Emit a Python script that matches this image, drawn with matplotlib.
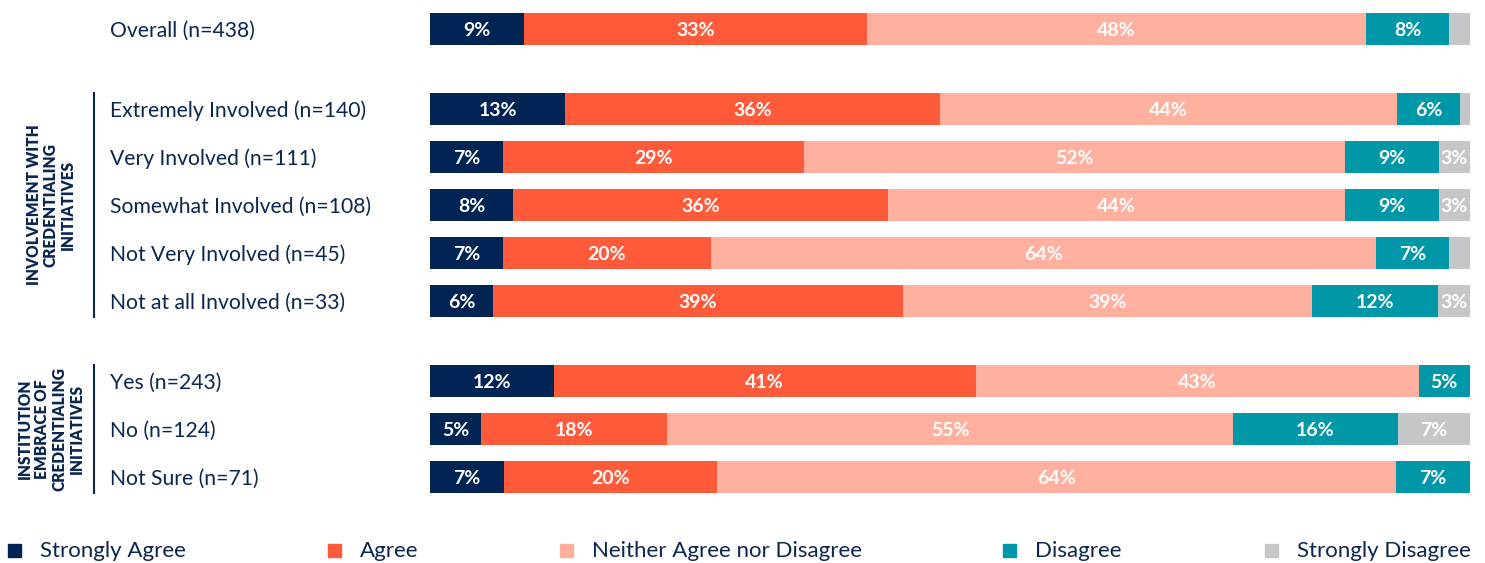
import matplotlib.pyplot as plt
import numpy as np

plt.rcParams['font.family'] = ['Lato', 'DejaVu Sans']

# Response shares (%) per group
rows = ['Overall (n=438)',
        'Extremely Involved (n=140)', 'Very Involved (n=111)', 'Somewhat Involved (n=108)',
        'Not Very Involved (n=45)', 'Not at all Involved (n=33)',
        'Yes (n=243)', 'No (n=124)', 'Not Sure (n=71)']
strongly_agree = [9, 13, 7, 8, 7, 6, 12, 5, 7]
agree = [33, 36, 29, 36, 20, 39, 41, 18, 20]
neither = [48, 44, 52, 44, 64, 39, 43, 55, 64]
disagree = [8, 6, 9, 9, 7, 12, 5, 16, 7]
strongly_disagree = [2, 1, 3, 3, 2, 3, 0, 7, 0]

categories = ['Strongly Agree', 'Agree', 'Neither Agree nor Disagree', 'Disagree', 'Strongly Disagree']
colors = ['#002453', '#FF5B3A', '#FFB09E', '#0097A9', '#C4C7CA']
navy = '#0B2650'

# vertical slots: overall row, then two blocks separated by a gap
ypos = np.array([0, 1.667, 2.667, 3.667, 4.667, 5.667, 7.333, 8.333, 9.333])

W, H = 1485, 563
fig = plt.figure(figsize=(W / 100, H / 100), dpi=100)
ax = fig.add_axes([430 / W, 1 - 493 / H, 1040 / W, 480 / H])

data = np.array([strongly_agree, agree, neither, disagree, strongly_disagree], dtype=float)
totals = data.sum(axis=0)
left = np.zeros(len(rows))
for vals, col in zip(data, colors):
    widths = vals / totals * 100
    ax.barh(ypos, widths, left=left, height=0.667, color=col, linewidth=0)
    for y, l, w, v in zip(ypos, left, widths, vals):
        if v >= 3:
            ax.text(l + w / 2, y + 0.03, f'{v:.0f}%', ha='center', va='center',
                    color='white', fontsize=14, fontweight='bold')
    left += widths

ax.set_xlim(0, 100)
ax.set_ylim(9.667, -0.333)
ax.axis('off')

# row labels
for y, lab in zip(ypos, rows):
    yf = 1 - (15 + (y + 0.333) * 48) / H
    fig.text(110 / W, yf, lab, ha='left', va='center', fontsize=15.2, color=navy)

# group brackets and titles
def group(y0, y1, title):
    fig.add_artist(plt.Line2D([94 / W, 94 / W], [1 - y0 / H, 1 - y1 / H],
                              color=navy, linewidth=1.5))
    fig.text(51 / W, 1 - (y0 + y1) / 2 / H, title, rotation=90, ha='center', va='center',
             fontsize=11.2, fontweight='heavy', color=navy, linespacing=1.1,
             multialignment='center')

group(93, 317, 'INVOLVEMENT WITH\nCREDENTIALING\nINITIATIVES')
group(365, 493, 'INSTITUTION\nEMBRACE OF\nCREDENTIALING\nINITIATIVES')

# legend
leg_x = [8, 328, 560, 1003, 1265]
for x, lab, col in zip(leg_x, categories, colors):
    fig.patches.append(plt.Rectangle((x / W, 1 - 557 / H), 13 / W, 13 / H,
                                     transform=fig.transFigure, color=col))
    fig.text((x + 32) / W, 1 - 551 / H, lab, ha='left', va='center', fontsize=16, color=navy)

fig.savefig('out.png', dpi=100)
